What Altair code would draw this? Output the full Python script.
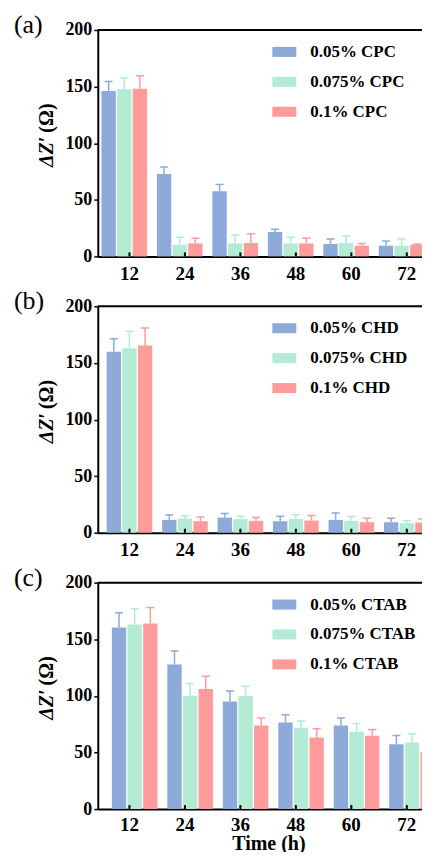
import altair as alt
import pandas as pd

times = ["12", "24", "36", "48", "60", "72"]
conc = ["0.05%", "0.075%", "0.1%"]
colors = ["#8DAAD8", "#B3EBD5", "#FF9B9B"]

# (a) CPC
cpc_005 = [146.0, 72.7, 57.6, 21.6, 11.0, 9.5]
cpc_0075 = [147.7, 10.3, 11.5, 11.5, 11.8, 9.5]
cpc_01 = [148.0, 11.5, 11.8, 11.5, 9.5, 10.3]
cpc_005_err = [8.5, 6.3, 5.9, 2.4, 4.4, 4.1]
cpc_0075_err = [9.8, 6.7, 7.5, 5.5, 6.2, 5.9]
cpc_01_err = [11.5, 4.5, 8.2, 4.5, 2.0, 0.7]

# (b) CHD
chd_005 = [159.8, 11.4, 13.4, 10.2, 11.4, 9.3]
chd_0075 = [163.0, 12.5, 12.0, 12.2, 10.5, 8.5]
chd_01 = [165.3, 10.2, 10.5, 10.8, 9.3, 9.0]
chd_005_err = [11.6, 4.3, 3.6, 4.4, 6.1, 3.5]
chd_0075_err = [15.0, 2.5, 2.6, 3.8, 3.8, 2.0]
chd_01_err = [15.5, 3.8, 2.9, 4.4, 3.5, 3.2]

# (c) CTAB
ctab_005 = [160.4, 127.6, 95.1, 76.5, 73.9, 57.3]
ctab_0075 = [163.0, 100.1, 99.9, 71.8, 68.2, 58.8]
ctab_01 = [164.0, 106.0, 73.9, 63.2, 64.7, 50.2]
ctab_005_err = [13.0, 12.1, 9.2, 6.8, 6.5, 7.7]
ctab_0075_err = [14.0, 10.9, 8.5, 5.9, 7.4, 7.7]
ctab_01_err = [14.0, 11.3, 6.5, 7.7, 5.6, 7.1]

y_ticks = [0, 50, 100, 150, 200]

W, H = 333, 227
BAR_W = 14.4
FONT = "Times New Roman"
SYMBOL = "M-1,-0.42H1V0.42H-1Z"


def panel(letter, agent, means, errs, last):
    series = [f"{c} {agent}" for c in conc]
    rows = []
    for s, m, e in zip(series, means, errs):
        for t, mv, ev in zip(times, m, e):
            rows.append({"Time": t, "Series": s, "Value": mv, "Upper": mv + ev})
    df = pd.DataFrame(rows)

    xaxis = alt.Axis(
        title="Time (h)" if last else None,
        labelAngle=0, ticks=False, grid=False,
        domainColor="black", domainWidth=2,
        labelFont=FONT, labelFontWeight="bold", labelFontSize=19,
        labelColor="black", labelPadding=6 if last else 8,
        titleFont=FONT, titleFontWeight="bold", titleFontSize=20,
        titleColor="black", titlePadding=0, titleX=171,
    )
    xenc = alt.X("Time:N", sort=times,
                 scale=alt.Scale(type="band", paddingInner=0.164,
                                 paddingOuter=0.0765, align=1),
                 axis=xaxis)
    xoff = alt.XOffset("Series:N", sort=series,
                       scale=alt.Scale(type="band", paddingInner=0.1, paddingOuter=0))
    yaxis = alt.Axis(values=y_ticks, title=None, grid=False,
                     domainColor="black", domainWidth=2,
                     tickColor="black", tickWidth=1.5, tickSize=4,
                     labelFont=FONT, labelFontWeight="bold", labelFontSize=18,
                     labelColor="black", labelPadding=2)
    yscale = alt.Scale(domain=[0, 200], nice=False)
    cscale = alt.Scale(domain=series, range=colors)

    leg = alt.Legend(
        title=None, orient="none", legendX=175, legendY=10,
        symbolType=SYMBOL, symbolSize=576, symbolStrokeWidth=0,
        symbolOpacity=1,
        labelFont=FONT, labelFontWeight="bold", labelFontSize=17,
        labelColor="black", labelOffset=14, rowPadding=10,
        padding=0)

    base = alt.Chart(df)
    bars = base.mark_bar(width=BAR_W).encode(
        x=xenc, xOffset=xoff,
        y=alt.Y("Value:Q", scale=yscale, axis=yaxis),
        color=alt.Color("Series:N", scale=cscale, sort=series, legend=leg),
    )
    stems = base.mark_bar(width=1.5).encode(
        x=xenc, xOffset=xoff,
        y=alt.Y("Value:Q", scale=yscale, axis=yaxis),
        y2="Upper:Q",
        color=alt.Color("Series:N", scale=cscale, legend=None),
    )
    caps = base.mark_bar(width=8, strokeWidth=1.5).encode(
        x=xenc, xOffset=xoff,
        y=alt.Y("Upper:Q", scale=yscale, axis=yaxis),
        y2="Upper:Q",
        color=alt.Color("Series:N", scale=cscale, legend=None),
        stroke=alt.Stroke("Series:N", scale=cscale, legend=None),
    )
    tdf = pd.DataFrame({"Time": times})
    inticks = alt.Chart(tdf).mark_bar(width=2, color="black").encode(
        x=xenc, y=alt.value(H - 4), y2=alt.value(H),
    )
    one = pd.DataFrame({"k": [0]})
    frame = alt.Chart(one).mark_rule(color="black", strokeWidth=2).encode(
        x=alt.value(0), x2=alt.value(W), y=alt.value(0),
    )
    lab = alt.Chart(one).mark_text(
        font=FONT, fontSize=26, align="left", baseline="middle", color="black"
    ).encode(x=alt.value(-84), y=alt.value(-5), text=alt.value(f"({letter})"))
    yt1 = alt.Chart(one).mark_text(
        font=FONT, fontSize=20, fontWeight="bold", fontStyle="italic",
        angle=270, align="right", baseline="middle", color="black"
    ).encode(x=alt.value(-51), y=alt.value(107), text=alt.value("\u0394Z\u2032"))
    yt2 = alt.Chart(one).mark_text(
        font=FONT, fontSize=20, fontWeight="bold",
        angle=270, align="left", baseline="middle", color="black"
    ).encode(x=alt.value(-51), y=alt.value(103), text=alt.value("(\u03a9)"))

    return alt.layer(bars, stems, caps, inticks, frame, lab, yt1, yt2).properties(
        width=W, height=H
    )


pa = panel("a", "CPC", [cpc_005, cpc_0075, cpc_01],
           [cpc_005_err, cpc_0075_err, cpc_01_err], False)
pb = panel("b", "CHD", [chd_005, chd_0075, chd_01],
           [chd_005_err, chd_0075_err, chd_01_err], False)
pc = panel("c", "CTAB", [ctab_005, ctab_0075, ctab_01],
           [ctab_005_err, ctab_0075_err, ctab_01_err], True)

chart = alt.vconcat(pa, pb, pc, spacing=50, bounds="flush").resolve_scale(
    color="independent", stroke="independent"
).properties(
    padding={"left": 5, "top": 2, "right": -14, "bottom": -4}
).configure_view(stroke=None).configure(background="white")

chart.save("out.html", embed_options={"renderer": "svg", "actions": False})
